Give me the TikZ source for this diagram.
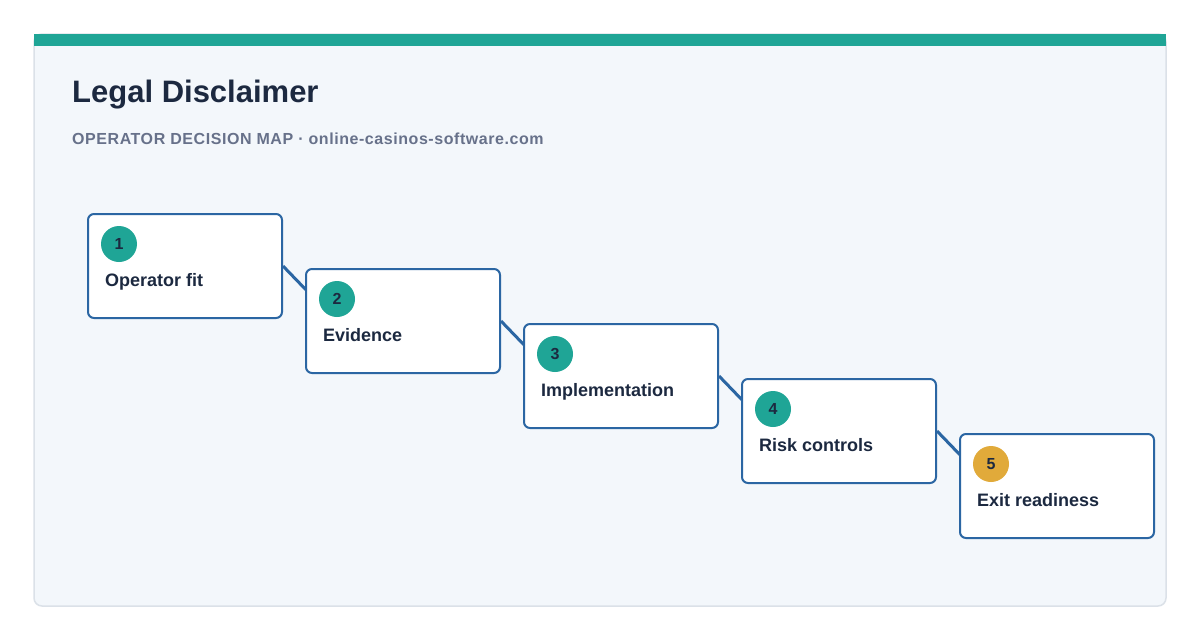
\documentclass[tikz,border=0pt]{standalone}
\usepackage{fontspec}
\setmainfont{Liberation Sans}
\usetikzlibrary{backgrounds}
\pgfdeclarelayer{back}
\pgfsetlayers{back,background,main}
\definecolor{tealc}{HTML}{1FA596}
\definecolor{goldc}{HTML}{E1AA3A}
\definecolor{lineblue}{HTML}{2B66A3}
\definecolor{navyc}{HTML}{1C2940}
\definecolor{subgray}{HTML}{67718A}
\definecolor{panelbg}{HTML}{F3F7FB}
\definecolor{panelborder}{HTML}{DBE1E8}
\begin{document}
\begin{tikzpicture}[x=1pt,y=-1pt,
  stepbox/.style={draw=lineblue, line width=2pt, fill=white, rounded corners=6pt, minimum width=194pt, minimum height=104pt, inner sep=0pt},
  badge/.style={circle, fill=tealc, minimum size=36pt, inner sep=0pt, font=\bfseries\fontsize{16}{16}\selectfont, text=navyc},
  steplabel/.style={anchor=base west, inner sep=0pt, font=\bfseries\fontsize{18}{18}\selectfont, text=navyc},
  link/.style={draw=lineblue, line width=3pt}]
\useasboundingbox (0,0) rectangle (1200,640);
\begin{pgfonlayer}{back}
\fill[white] (0,0) rectangle (1200,640);
\draw[draw=panelborder, fill=panelbg, rounded corners=8pt, line width=1.5pt] (34,34) rectangle (1166,606);
\fill[tealc] (34,34) rectangle (1166,46);
\end{pgfonlayer}
\node[anchor=base west, inner sep=0pt, font=\bfseries\fontsize{31}{31}\selectfont, text=navyc] (title) at (72,102) {Legal Disclaimer};
\node[anchor=base west, inner sep=0pt, font=\bfseries\fontsize{16}{16}\selectfont\addfontfeatures{LetterSpace=3.5}, text=subgray] (subtitle) at (72,144) {OPERATOR DECISION MAP · online-casinos-software.com};
\foreach \i/\lab in {1/Operator fit, 2/Evidence, 3/Implementation, 4/Risk controls, 5/Exit readiness}{
  \node[stepbox] (box\i) at ({185+218*(\i-1)},{266+55*(\i-1)}) {};
  \node[steplabel] (lab\i) at ([xshift=18pt,yshift=-73pt]box\i.north west) {\lab};
}
\foreach \i in {1,2,3,4}{
  \node[badge] (num\i) at ([xshift=32pt,yshift=-31pt]box\i.north west) {\i};
}
\node[badge, fill=goldc] (num5) at ([xshift=32pt,yshift=-31pt]box5.north west) {5};
\begin{scope}[on background layer]
\foreach \a/\b in {1/2,2/3,3/4,4/5}{
  \draw[link] (box\a.east) -- ([xshift=31pt]box\b.west);
}
\end{scope}
\end{tikzpicture}
\end{document}
